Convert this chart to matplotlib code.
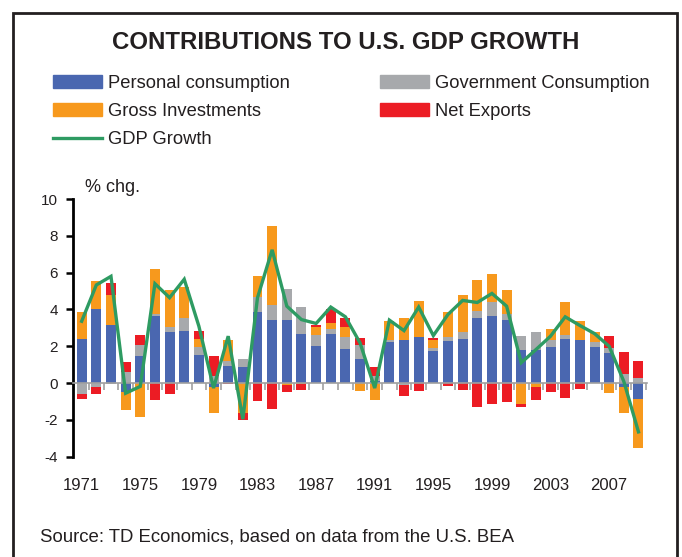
import numpy as np
import matplotlib
matplotlib.use("Agg")
import matplotlib.pyplot as plt
from matplotlib.patches import Patch, Rectangle
from matplotlib.lines import Line2D

plt.rcParams['font.family'] = ['Liberation Sans', 'DejaVu Sans']
plt.rcParams['axes.unicode_minus'] = False

years = list(range(1971, 2010))
tick_years = [1971, 1975, 1979, 1983, 1987, 1991, 1995, 1999, 2003, 2007]

# contributions, percentage points
consumption = [2.42, 4.0, 3.18, -0.51, 1.49, 3.67, 2.75, 2.85, 1.55, -0.2,
               0.95, 0.9, 3.84, 3.45, 3.45, 2.69, 2.04, 2.69, 1.87, 1.33,
               0.1, 2.25, 2.36, 2.53, 1.76, 2.31, 2.42, 3.51, 3.67, 3.45,
               1.82, 1.82, 1.98, 2.42, 2.36, 1.98, 1.65, -0.2, -0.85]
government = [-0.58, -0.22, -0.07, 0.62, 0.6, 0.11, 0.29, 0.66, 0.43, 0.4,
              0.23, 0.43, 0.83, 0.79, 1.64, 1.47, 0.6, 0.26, 0.62, 0.76,
              0.26, 0.11, -0.13, 0.0, 0.17, 0.22, 0.38, 0.4, 0.71, 0.33,
              0.76, 0.93, 0.38, 0.22, 0.0, 0.27, 0.28, 0.51, 0.29]
investment = [1.42, 1.53, 1.6, -0.94, -1.84, 2.4, 2.0, 1.71, 0.44, -1.4,
              1.18, -1.6, 1.13, 4.29, -0.09, -0.07, 0.4, 0.29, 0.55, -0.42,
              -0.91, 0.99, 1.15, 1.91, 0.43, 1.31, 1.96, 1.67, 1.53, 1.26,
              -1.13, -0.2, 0.6, 1.74, 0.99, 0.5, -0.53, -1.42, -2.68]
net_exports = [-0.27, -0.36, 0.64, 0.54, 0.55, -0.91, -0.58, 0.0, 0.43, 1.09,
               -0.07, -0.4, -0.95, -1.4, -0.38, -0.29, 0.14, 0.76, 0.47, 0.38,
               0.51, 0.0, -0.56, -0.42, 0.11, -0.15, -0.36, -1.29, -1.13, -1.02,
               -0.16, -0.71, -0.47, -0.8, -0.31, 0.0, 0.65, 1.2, 0.93]
gdp = [3.36, 5.33, 5.8, -0.55, -0.18, 5.4, 4.64, 5.64, 3.09, -0.27,
       2.55, -1.96, 4.64, 7.24, 4.18, 3.45, 3.24, 4.13, 3.6, 2.18,
       -0.27, 3.42, 2.85, 4.13, 2.58, 3.73, 4.49, 4.38, 4.87, 4.18,
       1.11, 1.82, 2.55, 3.6, 3.13, 2.69, 2.0, 0.09, -2.65]

series = [("Personal consumption", consumption, "#4A67B0"),
          ("Government Consumption", government, "#A7A9AC"),
          ("Gross Investments", investment, "#F7991D"),
          ("Net Exports", net_exports, "#EC1C24")]
line_color = "#2E9B62"

fig = plt.figure(figsize=(6.82, 5.57), dpi=100)
ax = fig.add_axes([0.1075, 0.18, 0.8405, 0.4627])

x = np.array(years)
pos_base = np.zeros(len(years))
neg_base = np.zeros(len(years))
for name, vals, col in series:
    v = np.array(vals)
    base = np.where(v >= 0, pos_base, neg_base)
    ax.bar(x, v, width=0.68, bottom=base, color=col, linewidth=0, zorder=2)
    pos_base += np.where(v > 0, v, 0)
    neg_base += np.where(v < 0, v, 0)

ax.plot(x, gdp, color=line_color, lw=2.4, zorder=3, solid_joinstyle='miter')

ax.set_xlim(1970.43, 2009.55)
ax.set_ylim(-4, 10)
ax.set_yticks(range(-4, 11, 2))

ax.spines['top'].set_visible(False)
ax.spines['right'].set_visible(False)
ax.spines['left'].set_linewidth(2)
ax.spines['left'].set_bounds(-4, 10)
ax.spines['bottom'].set_position(('data', 0))
ax.spines['bottom'].set_color('#A0A0A0')
ax.spines['bottom'].set_linewidth(1.2)

ax.set_xticks(tick_years)
ax.set_xticks(np.arange(1970.5, 2009.6, 1.0), minor=True)
ax.tick_params(axis='x', which='major', length=0, pad=68, labelsize=12, labelcolor='#231F20')
ax.tick_params(axis='x', which='minor', length=5, width=1.2, color='#A0A0A0', direction='out')
ax.tick_params(axis='y', length=5, width=1.8, labelsize=11, pad=6, labelcolor='#231F20')

ax.text(0.02, 1.012, "% chg.", transform=ax.transAxes, fontsize=13, va='bottom', ha='left',
        color='#231F20')

fig.text(0.507, 0.923, "CONTRIBUTIONS TO U.S. GDP GROWTH", ha='center', va='center',
         fontsize=17.3, fontweight='bold', color='#231F20')

handles = [Patch(color=series[0][2]), Patch(color=series[2][2]),
           Line2D([], [], color=line_color, lw=2.4),
           Patch(color=series[1][2]), Patch(color=series[3][2])]
labels = [series[0][0], series[2][0], "GDP Growth", series[1][0], series[3][0]]
fig.legend(handles, labels, ncol=2, loc='upper left', bbox_to_anchor=(0.0777, 0.865),
           frameon=False, fontsize=13.2, handlelength=2.65, handleheight=0.69,
           handletextpad=0.33, columnspacing=4.95, labelspacing=0.6,
           borderpad=0, borderaxespad=0, labelcolor='#231F20')

fig.text(40 / 682, 1 - 537 / 557, "Source: TD Economics, based on data from the U.S. BEA",
         ha='left', va='center', fontsize=13.4, color='#231F20')

fig.patches.append(Rectangle((13 / 682, -0.1), 664 / 682, 1.1 - 13 / 557, transform=fig.transFigure,
                             fill=False, lw=2, edgecolor='#231F20'))

fig.savefig("out.png", dpi=100)
